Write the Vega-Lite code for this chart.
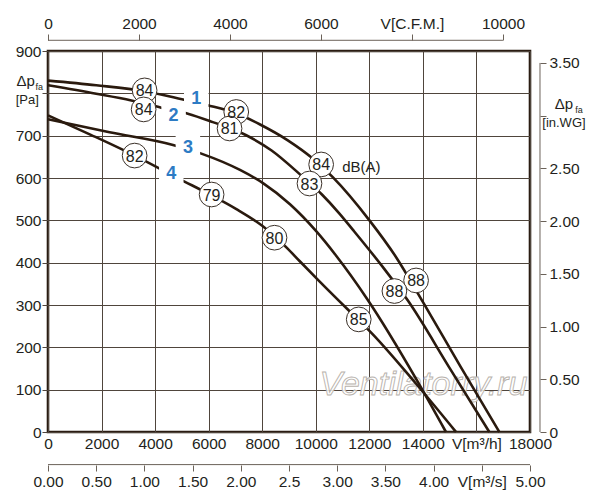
{
  "$schema": "https://vega.github.io/schema/vega-lite/v6.json",
  "width": 482,
  "height": 381,
  "autosize": {"type": "none"},
  "padding": {"left": 48, "top": 51, "right": 70, "bottom": 68},
  "background": "white",
  "config": {
    "view": {"stroke": "#2a1c12", "strokeWidth": 2.6},
    "font": "Liberation Sans",
    "axis": {"labelFont": "Liberation Sans", "labelFontSize": 15.5, "labelColor": "#231f20", "title": null, "tickColor": "#6b6259", "labelFlush": false, "labelOverlap": false, "labelAngle": 0}
  },
  "datasets": {
    "curves": [
      {"curve": "1", "x": 0, "y": 830}, {"curve": "1", "x": 1800, "y": 819}, {"curve": "1", "x": 3600, "y": 805}, {"curve": "1", "x": 5000, "y": 786}, {"curve": "1", "x": 5959, "y": 772}, {"curve": "1", "x": 7030, "y": 753}, {"curve": "1", "x": 7903, "y": 727}, {"curve": "1", "x": 8955, "y": 689}, {"curve": "1", "x": 9888, "y": 646}, {"curve": "1", "x": 10634, "y": 602}, {"curve": "1", "x": 12004, "y": 500}, {"curve": "1", "x": 13000, "y": 413}, {"curve": "1", "x": 13993, "y": 308}, {"curve": "1", "x": 15400, "y": 155}, {"curve": "1", "x": 16854, "y": 0},
      {"curve": "2", "x": 0, "y": 819}, {"curve": "2", "x": 1800, "y": 799}, {"curve": "2", "x": 3112, "y": 783}, {"curve": "2", "x": 4231, "y": 766}, {"curve": "2", "x": 5224, "y": 752}, {"curve": "2", "x": 6153, "y": 732}, {"curve": "2", "x": 7403, "y": 701}, {"curve": "2", "x": 8350, "y": 665}, {"curve": "2", "x": 9420, "y": 608}, {"curve": "2", "x": 10230, "y": 561}, {"curve": "2", "x": 10884, "y": 516}, {"curve": "2", "x": 11381, "y": 478}, {"curve": "2", "x": 12500, "y": 390}, {"curve": "2", "x": 13433, "y": 311}, {"curve": "2", "x": 15000, "y": 151}, {"curve": "2", "x": 16481, "y": 0},
      {"curve": "3", "x": 0, "y": 739}, {"curve": "3", "x": 2300, "y": 708}, {"curve": "3", "x": 4668, "y": 678}, {"curve": "3", "x": 5751, "y": 657}, {"curve": "3", "x": 7170, "y": 619}, {"curve": "3", "x": 8028, "y": 588}, {"curve": "3", "x": 9037, "y": 538}, {"curve": "3", "x": 10007, "y": 475}, {"curve": "3", "x": 10754, "y": 417}, {"curve": "3", "x": 11912, "y": 315}, {"curve": "3", "x": 13779, "y": 122}, {"curve": "3", "x": 14862, "y": 0},
      {"curve": "4", "x": 0, "y": 748}, {"curve": "4", "x": 1600, "y": 702}, {"curve": "4", "x": 3235, "y": 653}, {"curve": "4", "x": 4900, "y": 598}, {"curve": "4", "x": 6134, "y": 558}, {"curve": "4", "x": 7019, "y": 527}, {"curve": "4", "x": 8000, "y": 487}, {"curve": "4", "x": 8459, "y": 463}, {"curve": "4", "x": 8950, "y": 433}, {"curve": "4", "x": 9394, "y": 404}, {"curve": "4", "x": 10138, "y": 356}, {"curve": "4", "x": 11604, "y": 264}, {"curve": "4", "x": 12004, "y": 239}, {"curve": "4", "x": 13746, "y": 114}, {"curve": "4", "x": 15239, "y": 0}
    ],
    "dbLabels": [
      {"curve": "1", "x": 3608, "y": 807, "label": "84"},
      {"curve": "1", "x": 7030, "y": 756, "label": "82"},
      {"curve": "1", "x": 10201, "y": 632, "label": "84"},
      {"curve": "1", "x": 13746, "y": 358, "label": "88"},
      {"curve": "2", "x": 3571, "y": 762, "label": "84"},
      {"curve": "2", "x": 6780, "y": 717, "label": "81"},
      {"curve": "2", "x": 9765, "y": 587, "label": "83"},
      {"curve": "2", "x": 12937, "y": 333, "label": "88"},
      {"curve": "4", "x": 3235, "y": 653, "label": "82"},
      {"curve": "4", "x": 6110, "y": 561, "label": "79"},
      {"curve": "4", "x": 8459, "y": 459, "label": "80"},
      {"curve": "4", "x": 11604, "y": 266, "label": "85"}
    ],
    "curveNumbers": [
      {"x": 5537, "y": 788, "label": "1"},
      {"x": 4690, "y": 748, "label": "2"},
      {"x": 5224, "y": 673, "label": "3"},
      {"x": 4604, "y": 612, "label": "4"}
    ],
    "unitNote": [{"x": 10985, "y": 627, "text": "dB(A)"}],
    "annotations": [
      {"x": -832, "y": 829, "text": "Δp", "size": 15},
      {"x": -330, "y": 815, "text": "fa", "size": 9},
      {"x": -776, "y": 785, "text": "[Pa]", "size": 13},
      {"x": 19268, "y": 774, "text": "Δp", "size": 15},
      {"x": 19828, "y": 760, "text": "fa", "size": 9},
      {"x": 19268, "y": 731, "text": "[in.WG]", "size": 13}
    ],
    "watermark": [{"x": 14019, "y": 110, "text": "Ventilatorry.ru"}],
    "rightAxis": [{"from": 0, "to": 3.5}],
    "topAxis": [{"from": 0, "to": 10000}],
    "bottomAxis": [{"from": 0, "to": 5}]
  },
  "layer": [
    {
      "layer": [
        {
          "data": {"name": "watermark"},
          "mark": {"type": "text", "font": "Liberation Sans", "fontStyle": "italic", "fontSize": 34, "fill": "white", "fillOpacity": 0.85, "stroke": "#b8b2ac", "strokeWidth": 0.9, "align": "center", "baseline": "middle"},
          "encoding": {
            "x": {"field": "x", "type": "quantitative", "scale": {"domain": [0, 18000], "nice": false}},
            "y": {"field": "y", "type": "quantitative", "scale": {"domain": [0, 900], "nice": false}},
            "text": {"field": "text"}
          }
        },
        {
          "data": {"name": "curves"},
          "mark": {"type": "line", "interpolate": "monotone", "color": "#2a1a0e", "strokeWidth": 2.6},
          "encoding": {
            "x": {"field": "x", "type": "quantitative", "scale": {"domain": [0, 18000], "nice": false},
              "axis": {"orient": "bottom", "values": [0, 2000, 4000, 6000, 8000, 10000, 12000, 14000, 16000, 18000], "format": "d", "labelExpr": "datum.value == 16000 ? 'V[m³/h]' : datum.label", "ticks": false, "domain": false, "grid": true, "gridColor": "#4f453c", "gridWidth": 1, "labelPadding": 4}},
            "y": {"field": "y", "type": "quantitative", "scale": {"domain": [0, 900], "nice": false},
              "axis": {"orient": "left", "values": [0, 100, 200, 300, 400, 500, 600, 700, 800, 900], "format": "d", "labelExpr": "datum.value == 800 ? '' : datum.label", "ticks": true, "tickSize": 6, "tickColor": "#4f453c", "domain": false, "grid": true, "gridColor": "#4f453c", "gridWidth": 1, "labelPadding": 1}},
            "detail": {"field": "curve"}
          }
        },
        {
          "data": {"name": "dbLabels"},
          "mark": {"type": "point", "shape": "circle", "filled": true, "fill": "white", "stroke": "#3a3028", "strokeWidth": 1, "size": 610, "opacity": 1},
          "encoding": {
            "x": {"field": "x", "type": "quantitative", "scale": {"domain": [0, 18000], "nice": false}},
            "y": {"field": "y", "type": "quantitative", "scale": {"domain": [0, 900], "nice": false}}
          }
        },
        {
          "data": {"name": "dbLabels"},
          "mark": {"type": "text", "fontSize": 16, "color": "#231f20", "align": "center", "baseline": "middle", "dy": 1},
          "encoding": {
            "x": {"field": "x", "type": "quantitative", "scale": {"domain": [0, 18000], "nice": false}},
            "y": {"field": "y", "type": "quantitative", "scale": {"domain": [0, 900], "nice": false}},
            "text": {"field": "label"}
          }
        },
        {
          "data": {"name": "curveNumbers"},
          "mark": {"type": "point", "shape": "square", "filled": true, "fill": "white", "strokeWidth": 0, "size": 600, "opacity": 1},
          "encoding": {
            "x": {"field": "x", "type": "quantitative", "scale": {"domain": [0, 18000], "nice": false}},
            "y": {"field": "y", "type": "quantitative", "scale": {"domain": [0, 900], "nice": false}}
          }
        },
        {
          "data": {"name": "curveNumbers"},
          "mark": {"type": "text", "fontSize": 18, "fontWeight": "bold", "color": "#2d7bc4", "align": "center", "baseline": "middle", "dy": 1},
          "encoding": {
            "x": {"field": "x", "type": "quantitative", "scale": {"domain": [0, 18000], "nice": false}},
            "y": {"field": "y", "type": "quantitative", "scale": {"domain": [0, 900], "nice": false}},
            "text": {"field": "label"}
          }
        },
        {
          "data": {"name": "unitNote"},
          "mark": {"type": "text", "fontSize": 15, "color": "#231f20", "align": "left", "baseline": "middle"},
          "encoding": {
            "x": {"field": "x", "type": "quantitative", "scale": {"domain": [0, 18000], "nice": false}},
            "y": {"field": "y", "type": "quantitative", "scale": {"domain": [0, 900], "nice": false}},
            "text": {"field": "text"}
          }
        },
        {
          "data": {"name": "annotations"},
          "mark": {"type": "text", "color": "#231f20", "align": "center", "baseline": "middle"},
          "encoding": {
            "x": {"field": "x", "type": "quantitative", "scale": {"domain": [0, 18000], "nice": false}},
            "y": {"field": "y", "type": "quantitative", "scale": {"domain": [0, 900], "nice": false}},
            "text": {"field": "text"},
            "size": {"field": "size", "type": "quantitative", "scale": null}
          }
        }
      ]
    },
    {
      "data": {"name": "rightAxis"},
      "mark": {"type": "rule", "color": "#6b6259", "strokeWidth": 1},
      "encoding": {
        "x": {"datum": 18373, "type": "quantitative", "scale": {"domain": [0, 18000], "nice": false}, "axis": null},
        "y": {"field": "from", "type": "quantitative", "scale": {"domain": [0, 3.6132], "nice": false},
          "axis": {"orient": "right", "offset": 10, "values": [0, 0.5, 1, 1.5, 2, 2.5, 3, 3.5], "labelExpr": "datum.value == 0 ? '0' : (datum.value == 3 ? '' : format(datum.value, '.2f'))", "domain": false, "ticks": true, "tickSize": 6, "grid": false, "labelPadding": 3}},
        "y2": {"field": "to"}
      }
    },
    {
      "data": {"name": "topAxis"},
      "mark": {"type": "rule", "color": "#6b6259", "strokeWidth": 1},
      "encoding": {
        "x": {"field": "from", "type": "quantitative", "scale": {"domain": [0, 10594.4], "nice": false},
          "axis": {"orient": "top", "offset": 11, "values": [0, 2000, 4000, 6000, 8000, 10000], "format": "d", "labelExpr": "datum.value == 8000 ? 'V[C.F.M.]' : datum.label", "domain": false, "ticks": true, "tickSize": 6, "grid": false, "labelPadding": 3}},
        "x2": {"field": "to"},
        "y": {"datum": 925.3, "type": "quantitative", "scale": {"domain": [0, 900], "nice": false}, "axis": null}
      }
    },
    {
      "data": {"name": "bottomAxis"},
      "mark": {"type": "rule", "color": "#6b6259", "strokeWidth": 1},
      "encoding": {
        "x": {"field": "from", "type": "quantitative", "scale": {"domain": [0, 5], "nice": false},
          "axis": {"orient": "bottom", "offset": 33, "values": [0, 0.5, 1, 1.5, 2, 2.5, 3, 3.5, 4, 4.5, 5], "labelExpr": "datum.value == 4.5 ? 'V[m³/s]' : (datum.value == 2.5 ? '2.5' : format(datum.value, '.2f'))", "domain": false, "ticks": true, "tickSize": 6, "grid": false, "labelPadding": 3}},
        "x2": {"field": "to"},
        "y": {"datum": -77, "type": "quantitative", "scale": {"domain": [0, 900], "nice": false}, "axis": null}
      }
    }
  ],
  "resolve": {
    "scale": {"x": "independent", "y": "independent"},
    "axis": {"x": "independent", "y": "independent"}
  }
}
